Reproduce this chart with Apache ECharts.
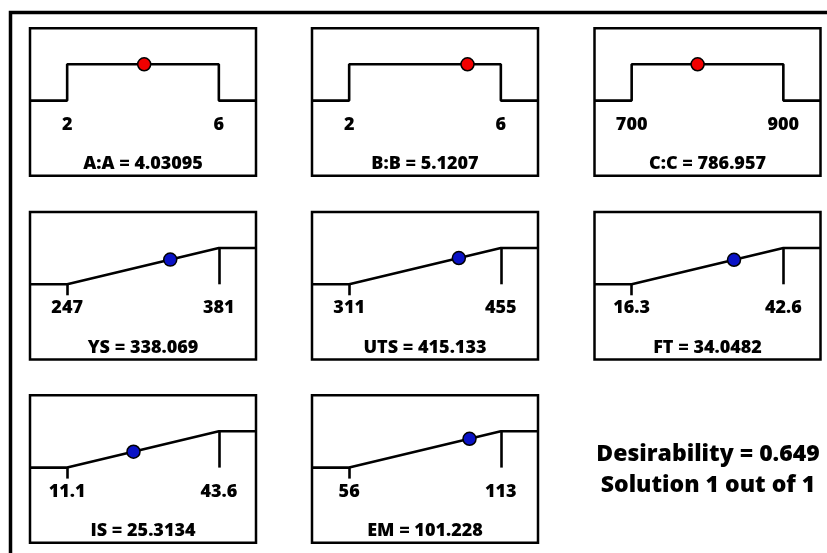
<!DOCTYPE html>
<html>
<head>
<meta charset="utf-8">
<script src="https://cdn.jsdelivr.net/npm/echarts@6/dist/echarts.min.js"></script>
<style>
  html, body { margin: 0; padding: 0; background: #fff; }
  #chart { width: 827px; height: 553px; }
</style>
</head>
<body>
<div id="chart"></div>
<script>
// Factors kept in range: step-shaped desirability
const factorNames = ['A:A', 'B:B', 'C:C'];
const factorLow = [2, 2, 700];
const factorHigh = [6, 6, 900];
const factorValues = [4.03095, 5.1207, 786.957];

// Responses to maximise: ramp-shaped desirability
const responseNames = ['YS', 'UTS', 'FT', 'IS', 'EM'];
const responseLow = [247, 311, 16.3, 11.1, 56];
const responseHigh = [381, 455, 42.6, 43.6, 113];
const responseValues = [338.069, 415.133, 34.0482, 25.3134, 101.228];
const responseDesirability = [0.680, 0.723, 0.675, 0.437, 0.793];

// Combined result
const overallDesirability = 0.649;
const solutionIndex = 1;
const solutionCount = 1;

// ---- layout & style ----
const FONT = '"Open Sans", "DejaVu Sans", sans-serif';
const WEIGHT = 800;
const colLeft = [30, 312, 594.5];
const rowTop = [28.3, 212, 395.3];
const PANEL_W = 226;
const PANEL_H = 147.5;
const PAD = 0.245;          // axis space beyond the low/high limits
const Y_MIN = -2.07, Y_MAX = 1.99;
const LINE_W = 2.6;
// lift the x axis from the grid bottom up to desirability 0
const AXIS_LIFT = -PANEL_H * (0 - Y_MIN) / (Y_MAX - Y_MIN);

const panels = [];
factorNames.forEach((name, i) => panels.push({
  kind: 'factor', name, low: factorLow[i], high: factorHigh[i],
  value: factorValues[i], d: 1, color: '#f20000'
}));
responseNames.forEach((name, i) => panels.push({
  kind: 'response', name, low: responseLow[i], high: responseHigh[i],
  value: responseValues[i], d: responseDesirability[i], color: '#0a12c6'
}));

const grid = [], xAxis = [], yAxis = [], series = [], graphic = [];

panels.forEach((p, i) => {
  const col = i % 3, row = Math.floor(i / 3);
  const span = p.high - p.low;
  const xmin = p.low - PAD * span, xmax = p.high + PAD * span;

  grid.push({
    left: colLeft[col], top: rowTop[row], width: PANEL_W, height: PANEL_H,
    show: true, borderColor: '#000', borderWidth: 2.5, backgroundColor: 'transparent'
  });

  xAxis.push({
    gridIndex: i, type: 'value', min: xmin, max: xmax,
    position: 'bottom', offset: AXIS_LIFT,
    axisLine: { show: false, onZero: false },
    splitLine: { show: false },
    axisTick: p.kind === 'response'
      ? { show: true, customValues: [p.low], length: 11, lineStyle: { color: '#000', width: LINE_W } }
      : { show: false },
    axisLabel: {
      customValues: [p.low, p.high], margin: 15,
      fontSize: 18, fontWeight: WEIGHT, fontFamily: FONT, color: '#000',
      formatter: v => String(v)
    }
  });

  yAxis.push({ gridIndex: i, type: 'value', min: Y_MIN, max: Y_MAX, show: false });

  const curve = p.kind === 'factor'
    ? [[xmin, 0], [p.low, 0], [p.low, 1], [p.high, 1], [p.high, 0], [xmax, 0]]
    : [[xmin, 0], [p.low, 0], [p.high, 1], [xmax, 1]];

  series.push({
    type: 'line', xAxisIndex: i, yAxisIndex: i, data: curve,
    showSymbol: false, silent: true, animation: false,
    lineStyle: { color: '#000', width: LINE_W },
    markLine: p.kind === 'response' ? {
      silent: true, symbol: 'none', label: { show: false },
      lineStyle: { color: '#000', width: LINE_W, type: 'solid' },
      data: [[{ coord: [p.high, 0] }, { coord: [p.high, 1] }]]
    } : undefined
  });

  series.push({
    type: 'scatter', xAxisIndex: i, yAxisIndex: i, data: [[p.value, p.d]],
    symbolSize: 13, z: 5, animation: false,
    itemStyle: { color: p.color, borderColor: '#000', borderWidth: 1.5, opacity: 1 }
  });

  graphic.push({
    type: 'text',
    x: colLeft[col] + PANEL_W / 2, y: rowTop[row] + 135.5,
    style: {
      text: `${p.name} = ${p.value}`, align: 'center', verticalAlign: 'middle',
      font: `${WEIGHT} 18px ${FONT}`, fill: '#000'
    }
  });
});

// outer frame
graphic.push({
  type: 'rect', z: -1,
  shape: { x: 10.5, y: 12.5, width: 900, height: 900 },
  style: { fill: 'none', stroke: '#000', lineWidth: 3.5 }
});

// combined desirability note
graphic.push({
  type: 'text', x: 708, y: 454,
  style: {
    text: `Desirability = ${overallDesirability}`, align: 'center', verticalAlign: 'middle',
    font: `${WEIGHT} 23px ${FONT}`, fill: '#000'
  }
});
graphic.push({
  type: 'text', x: 708, y: 485,
  style: {
    text: `Solution ${solutionIndex} out of ${solutionCount}`, align: 'center', verticalAlign: 'middle',
    font: `${WEIGHT} 23px ${FONT}`, fill: '#000'
  }
});

const chart = echarts.init(document.getElementById('chart'), null, { renderer: 'canvas' });
chart.setOption({
  animation: false,
  backgroundColor: '#fff',
  grid, xAxis, yAxis, series, graphic
});
</script>
</body>
</html>
